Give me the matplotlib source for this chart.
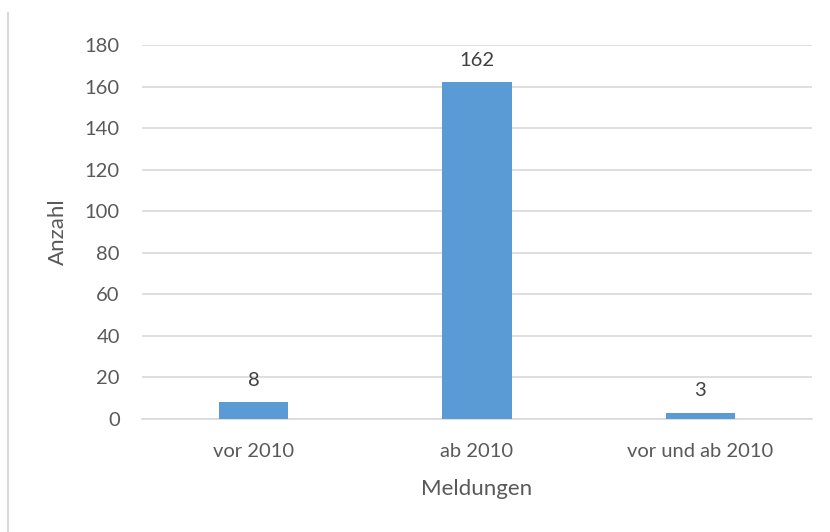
import matplotlib.pyplot as plt
import matplotlib.lines as mlines

plt.rcParams['font.family'] = ['Lato', 'DejaVu Sans']

kategorien = ['vor 2010', 'ab 2010', 'vor und ab 2010']
anzahl = [8, 162, 3]
y_ticks = [0, 20, 40, 60, 80, 100, 120, 140, 160, 180]

text_farbe = '#595959'
balken_farbe = '#5B9BD5'

fig = plt.figure(figsize=(8.3, 5.32), dpi=100)
ax = fig.add_axes([142 / 830, 1 - 419 / 532, 670 / 830, 374 / 532])

x = range(len(kategorien))
bars = ax.bar(x, anzahl, width=0.31, color=balken_farbe, zorder=3)
for b, v in zip(bars, anzahl):
    ax.text(b.get_x() + b.get_width() / 2, v + 6.5, str(v), ha='center', va='bottom',
            fontsize=14.5, color='#404040')

ax.set_xlim(-0.5, len(kategorien) - 0.5)
ax.set_ylim(0, 180)
ax.set_yticks(y_ticks)
ax.set_xticks(list(x))
ax.set_xticklabels(kategorien)
ax.yaxis.grid(True, color='#D9D9D9', linewidth=1.2, zorder=0)
ax.tick_params(axis='both', length=0, labelsize=14.5, labelcolor=text_farbe)
ax.tick_params(axis='y', pad=16)
ax.tick_params(axis='x', pad=17)
for s in ['top', 'right', 'left']:
    ax.spines[s].set_visible(False)
ax.spines['bottom'].set_color('#D9D9D9')
ax.spines['bottom'].set_linewidth(1.2)

ax.set_ylabel('Anzahl', fontsize=16, color=text_farbe, labelpad=12)
ax.set_xlabel('Meldungen', fontsize=16, color=text_farbe, labelpad=14)

# linker Rand
fig.add_artist(mlines.Line2D([8 / 830, 8 / 830], [0, 1 - 13 / 532], color='#D9D9D9', linewidth=1.5))

fig.savefig('out.png', dpi=100)
